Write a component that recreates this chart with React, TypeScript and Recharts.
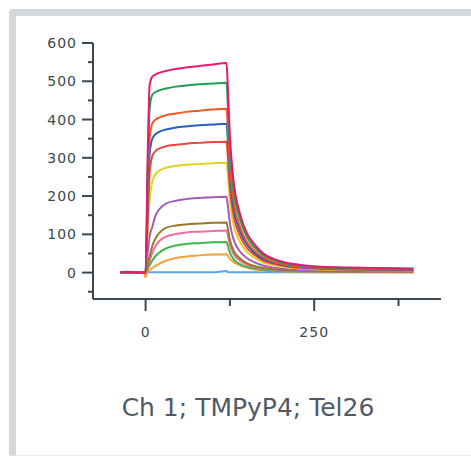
import { Line, LineChart, XAxis, YAxis } from 'recharts';

// time (s) of each sample
const times = [
    -38, -30, -20, -10, -3, 0,
    3, 6, 10, 15, 20, 30, 45, 60, 80, 100, 120,
    122, 125, 130, 140, 150, 160, 175, 190, 210, 230, 260, 300, 350, 397,
];

const flatPre = [0, 0, 0, 0, 0, 0];

// responses (RU), one array per concentration
const pinkTop = [0, 2, 1, 0, 0, 0, 300, 490, 512, 518, 522, 527, 532, 536, 540, 544, 548, 482, 356, 247, 153, 104, 77, 49, 36, 25, 20, 15, 13, 12, 11];
const greenTop = [...flatPre, 250, 430, 465, 472, 476, 481, 486, 489, 492, 494, 496, 436, 322, 223, 139, 94, 69, 45, 33, 23, 18, 14, 12, 10, 9];
const orangeTop = [...flatPre, 200, 350, 390, 400, 405, 411, 416, 420, 423, 426, 428, 377, 278, 193, 120, 81, 60, 39, 28, 20, 15, 12, 10, 9, 8];
const blueMid = [...flatPre, 170, 310, 350, 362, 368, 374, 379, 382, 385, 387, 389, 342, 253, 175, 109, 74, 54, 35, 26, 18, 14, 11, 9, 8, 7];
const redMid = [...flatPre, 140, 260, 305, 318, 324, 330, 334, 337, 339, 341, 342, 301, 222, 154, 96, 65, 48, 31, 23, 16, 12, 10, 8, 7, 7];
const yellowMid = [...flatPre, 100, 190, 238, 258, 266, 274, 279, 282, 284, 286, 287, 253, 187, 129, 80, 55, 40, 26, 19, 13, 10, 8, 7, 6, 6];
const purpleMid = [...flatPre, 50, 95, 120, 150, 165, 180, 188, 192, 195, 197, 198, 174, 129, 89, 55, 38, 28, 18, 13, 9, 7, 6, 5, 4, 4];
const brownLow = [...flatPre, 20, 42, 70, 90, 103, 117, 123, 126, 128, 130, 131, 115, 85, 59, 37, 25, 18, 12, 9, 6, 5, 4, 3, 3, 3];
const pinkLow = [...flatPre, 15, 32, 52, 70, 82, 94, 101, 105, 107, 109, 110, 97, 72, 50, 31, 21, 15, 10, 7, 5, 4, 3, 3, 2, 2];
const greenLow = [...flatPre, 10, 20, 32, 44, 52, 63, 71, 75, 77, 79, 80, 70, 52, 36, 22, 15, 11, 7, 5, 4, 3, 2, 2, 2, 2];
const orangeLow = [0, 0, 0, 0, 0, -12, 2, 7, 12, 18, 23, 31, 38, 42, 45, 47, 48, 44, 36, 28, 19, 13, 9, 6, 4, 3, 2, 1, 1, 1, 0];
const blueBlank = [...flatPre, 1, 1, 1, 1, 1, 1, 1, 1, 1, 1, 4, 1, 1, 1, 1, 1, 1, 1, 1, 1, 1, 1, 1, 1, 1];

const seriesList = [
    { key: 'blank', values: blueBlank, color: '#5aa9e6' },
    { key: 'c1', values: orangeLow, color: '#f7a03c' },
    { key: 'c2', values: greenLow, color: '#3fb54a' },
    { key: 'c3', values: pinkLow, color: '#f26ba7' },
    { key: 'c4', values: brownLow, color: '#98782a' },
    { key: 'c5', values: purpleMid, color: '#a25cb9' },
    { key: 'c6', values: yellowMid, color: '#e2d11f' },
    { key: 'c7', values: redMid, color: '#f2453d' },
    { key: 'c8', values: blueMid, color: '#2560c0' },
    { key: 'c9', values: orangeTop, color: '#f05a22' },
    { key: 'c10', values: greenTop, color: '#1f9e50' },
    { key: 'c11', values: pinkTop, color: '#e8196e' },
];

const yTicks = [-50, 0, 50, 100, 150, 200, 250, 300, 350, 400, 450, 500, 550, 600];
const xTicks = [0, 125, 250, 375];
const xLabels = [0, 250];

const data = times.map((t, i) => {
    const row: Record<string, number> = { t };
    seriesList.forEach((s) => {
        row[s.key] = s.values[i];
    });
    return row;
});

const axisColor = '#3c4752';
const tickFont = { fontFamily: 'DejaVu Sans', fontSize: 14, fill: axisColor, letterSpacing: 1 };

function YTick(props: any) {
    const { x, y, payload } = props;
    const major = payload.value % 100 === 0;
    const len = major ? 11 : 5;
    return (
        <g>
            <line x1={x - len} y1={y} x2={x} y2={y} stroke={axisColor} strokeWidth={2} />
            {major && (
                <text x={x - 16} y={y + 5} textAnchor="end" {...tickFont}>
                    {payload.value}
                </text>
            )}
        </g>
    );
}

function XTick(props: any) {
    const { x, y, payload } = props;
    const major = xLabels.includes(payload.value);
    const len = major ? 12 : 7;
    return (
        <g>
            <line x1={x} y1={y} x2={x} y2={y + len} stroke={axisColor} strokeWidth={2} />
            {major && (
                <text x={x} y={y + 38} textAnchor="middle" {...tickFont}>
                    {payload.value}
                </text>
            )}
        </g>
    );
}

export default function App() {
    return (
        <div style={{ position: 'relative', width: 471, height: 457, background: '#fff', overflow: 'hidden' }}>
            <style>{`body { margin: 0; }`}</style>
            <div
                style={{
                    position: 'absolute',
                    left: 9,
                    top: 9,
                    width: 480,
                    height: 439,
                    borderLeft: '7px solid #d5d9dd',
                    borderTop: '7px solid #d5d9dd',
                    borderBottom: '1px solid #e9ebed',
                    borderTopLeftRadius: 4,
                }}
            />
            <div style={{ position: 'absolute', left: 0, top: 0 }}>
                <LineChart width={471} height={340} data={data} margin={{ top: 43, right: 30, left: 92, bottom: 40 }}>
                    <XAxis
                        dataKey="t"
                        type="number"
                        domain={[-78, 438]}
                        ticks={xTicks}
                        height={1}
                        tickSize={0}
                        tickMargin={0}
                        tickLine={false}
                        stroke={axisColor}
                        strokeWidth={2}
                        tick={<XTick />}
                        interval={0}
                    />
                    <YAxis
                        type="number"
                        domain={[-69, 600]}
                        ticks={yTicks}
                        width={1}
                        tickSize={0}
                        tickMargin={0}
                        tickLine={false}
                        stroke={axisColor}
                        strokeWidth={2}
                        tick={<YTick />}
                        interval={0}
                        allowDataOverflow
                    />
                    {seriesList.map((s) => (
                        <Line
                            key={s.key}
                            dataKey={s.key}
                            type="monotone"
                            stroke={s.color}
                            strokeWidth={2}
                            dot={false}
                            isAnimationActive={false}
                        />
                    ))}
                </LineChart>
            </div>
            <div
                style={{
                    position: 'absolute',
                    left: 0,
                    width: 496,
                    top: 393,
                    textAlign: 'center',
                    fontFamily: 'DejaVu Sans',
                    fontSize: 25,
                    color: '#4f5a66',
                }}
            >
                Ch 1; TMPyP4; Tel26
            </div>
        </div>
    );
}
